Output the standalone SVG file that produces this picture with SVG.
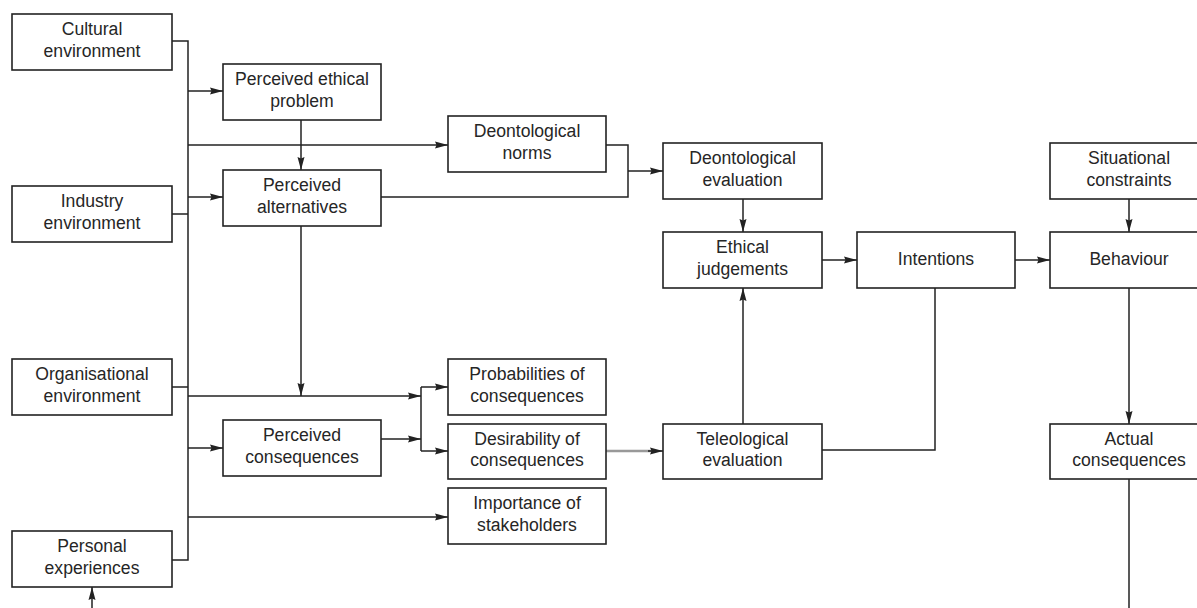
<svg xmlns="http://www.w3.org/2000/svg" width="1197" height="608" viewBox="0 0 1197 608">
<defs>
<marker id="ah" markerUnits="userSpaceOnUse" markerWidth="14" markerHeight="9" refX="13" refY="4" orient="auto">
<path d="M0,0.5 L13,4 L0,7.5 L1.5,4 z" fill="#222"/>
</marker>
</defs>
<style>
rect{fill:#fff;stroke:#222;stroke-width:1.6}
text{font-family:"Liberation Sans",Arial,sans-serif;font-size:17.6px;fill:#262626;text-anchor:middle}
.c{fill:none;stroke:#222;stroke-width:1.5}
.a{marker-end:url(#ah)}
.g{fill:none;stroke:#999;stroke-width:2.4}
</style>
<rect width="1197" height="608" style="fill:#fff;stroke:none"/>
<g id="connectors">
<path class="c" d="M172,41 H188 V560 H172"/>
<path class="c" d="M172,214 H188 M172,387 H188"/>
<path class="c a" d="M188,91 H223"/>
<path class="c a" d="M188,145 H448"/>
<path class="c a" d="M188,197 H223"/>
<path class="c a" d="M188,396 H421"/>
<path class="c a" d="M188,448 H223"/>
<path class="c a" d="M188,517 H448"/>
<path class="c a" d="M301,120 V170"/>
<path class="c a" d="M301,226 V396"/>
<path class="c" d="M606,145 H628 V197 H381"/>
<path class="c a" d="M628,171 H663"/>
<path class="c a" d="M743,199 V232"/>
<path class="c a" d="M743,424 V288"/>
<path class="c a" d="M822,260 H857"/>
<path class="c a" d="M1015,260 H1050"/>
<path class="c a" d="M1129,199 V232"/>
<path class="c a" d="M1129,288 V424"/>
<path class="c" d="M1129,479 V608"/>
<path class="c" d="M935,288 V450 H822"/>
<path class="c a" d="M381,439 H421"/>
<path class="c" d="M421,387 V451"/>
<path class="c a" d="M421,387 H448"/>
<path class="c a" d="M421,451 H448"/>
<path class="g" d="M606,451 H652"/>
<path class="c a" d="M648,451 H663"/>
<path class="c a" d="M92,608 V587"/>
</g>
<g id="cultural"><rect x="12" y="14" width="160" height="56"/><text x="92" y="35">Cultural</text><text x="92" y="56.5">environment</text></g>
<g id="industry"><rect x="12" y="186" width="160" height="56"/><text x="92" y="207">Industry</text><text x="92" y="228.5">environment</text></g>
<g id="organisational"><rect x="12" y="359" width="160" height="56"/><text x="92" y="380">Organisational</text><text x="92" y="401.5">environment</text></g>
<g id="personal"><rect x="12" y="531" width="160" height="56"/><text x="92" y="552">Personal</text><text x="92" y="573.5">experiences</text></g>
<g id="perceived-ethical-problem"><rect x="223" y="64" width="158" height="56"/><text x="302" y="85">Perceived ethical</text><text x="302" y="106.5">problem</text></g>
<g id="perceived-alternatives"><rect x="223" y="170" width="158" height="56"/><text x="302" y="191">Perceived</text><text x="302" y="212.5">alternatives</text></g>
<g id="perceived-consequences"><rect x="223" y="420" width="158" height="56"/><text x="302" y="441">Perceived</text><text x="302" y="462.5">consequences</text></g>
<g id="deontological-norms"><rect x="448" y="116" width="158" height="56"/><text x="527" y="137">Deontological</text><text x="527" y="158.5">norms</text></g>
<g id="probabilities"><rect x="448" y="359" width="158" height="56"/><text x="527" y="380">Probabilities of</text><text x="527" y="401.5">consequences</text></g>
<g id="desirability"><rect x="448" y="424" width="158" height="55"/><text x="527" y="444.5">Desirability of</text><text x="527" y="466">consequences</text></g>
<g id="importance"><rect x="448" y="488" width="158" height="56"/><text x="527" y="509">Importance of</text><text x="527" y="530.5">stakeholders</text></g>
<g id="deontological-evaluation"><rect x="663" y="143" width="159" height="56"/><text x="742.5" y="164">Deontological</text><text x="742.5" y="185.5">evaluation</text></g>
<g id="ethical-judgements"><rect x="663" y="232" width="159" height="56"/><text x="742.5" y="253">Ethical</text><text x="742.5" y="274.5">judgements</text></g>
<g id="teleological-evaluation"><rect x="663" y="424" width="159" height="55"/><text x="742.5" y="444.5">Teleological</text><text x="742.5" y="466">evaluation</text></g>
<g id="intentions"><rect x="857" y="232" width="158" height="56"/><text x="936" y="265">Intentions</text></g>
<g id="situational-constraints"><rect x="1050" y="143" width="158" height="56"/><text x="1129" y="164">Situational</text><text x="1129" y="185.5">constraints</text></g>
<g id="behaviour"><rect x="1050" y="232" width="158" height="56"/><text x="1129" y="265">Behaviour</text></g>
<g id="actual-consequences"><rect x="1050" y="424" width="158" height="55"/><text x="1129" y="444.5">Actual</text><text x="1129" y="466">consequences</text></g>
</svg>
